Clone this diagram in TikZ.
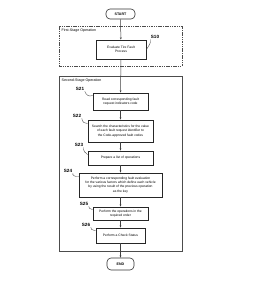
\documentclass[tikz,border=0pt]{standalone}
\usepackage{fontspec}
\setmainfont{Liberation Sans}
\usetikzlibrary{arrows.meta}
\begin{document}
\begin{tikzpicture}[x=1pt,y=-1pt,
  stepbox/.style={draw=black!85,line width=0.9pt,fill=white,align=center,inner sep=1pt,
    font=\fontsize{3.3}{4.2}\selectfont},
  term/.style={draw=black!80,line width=0.6pt,rounded corners=4pt,fill=white,
    font=\fontsize{3.6}{4.2}\selectfont\bfseries,minimum height=10pt},
  stage/.style={draw=black!70,line width=0.5pt},
  tag/.style={font=\fontsize{4.6}{5}\selectfont\bfseries,inner sep=0.5pt},
  lead/.style={draw=black!70,line width=0.4pt},
  flow/.style={draw=black!75,line width=0.5pt,-{Stealth[length=2.2pt,width=1.8pt]}},
  stagelbl/.style={font=\fontsize{3.6}{4}\selectfont,anchor=north west,inner sep=0.5pt}]
\useasboundingbox (0,0) rectangle (253,298);
\fill[white] (0,0) rectangle (253,298);

% stage frames
\draw[stage,dashed,dash pattern=on 1.5pt off 0.8pt] (59,26) rectangle (182,66);
\node[stagelbl] (st1) at (61,28) {First-Stage Operation};
\draw[stage] (59,76) rectangle (182,251);
\node[stagelbl] (st2) at (61,78) {Second-Stage Operation};

% nodes
\node[term,minimum width=29pt] (start) at (120.5,14) {START};
\node[stepbox,minimum width=50pt,minimum height=19pt] (s10) at (121,49.5) {Evaluate Tire Fault\\Process};
\node[stepbox,minimum width=55pt,minimum height=17pt] (s21) at (120.5,101.5) {Read corresponding fault\\request indicators code};
\node[stepbox,minimum width=65pt,minimum height=22pt] (s22) at (120.5,131) {Search the characteristics for the value\\of each fault request identifier to\\the Code-approved fault codes};
\node[stepbox,minimum width=65pt,minimum height=14pt] (s23) at (120.5,158) {Prepare a list of operations};
\node[stepbox,minimum width=83pt,minimum height=24pt] (s24) at (120.5,185) {Perform a corresponding fault evaluation\\for the various factors which define each vehicle\\by using the result of the previous operation\\as the key};
\node[stepbox,minimum width=55pt,minimum height=13pt] (s25) at (120.5,213.5) {Perform the operations in the\\required order};
\node[stepbox,minimum width=49pt,minimum height=15pt] (s26) at (120.5,235.5) {Perform a Check Status};
\node[term,minimum width=27pt,minimum height=12pt] (end) at (120.5,264) {END};

% step labels and leaders
\node[tag] (t10) at (155,37) {S10};
\draw[lead] (t10.south west) .. controls (151,44) and (149,45) .. (s10.east);
\node[tag] (t21) at (80,89) {S21};
\draw[lead] (t21.south east) .. controls (86,95) and (89,97) .. ([yshift=-3pt]s21.north west);
\node[tag] (t22) at (77,116) {S22};
\draw[lead] (t22.south east) .. controls (82,122) and (85,124) .. ([yshift=-4pt]s22.north west);
\node[tag] (t23) at (79,145) {S23};
\draw[lead] (t23.south east) .. controls (83,151) and (85,153) .. ([yshift=-4pt]s23.north west);
\node[tag] (t24) at (68,171) {S24};
\draw[lead] (t24.south east) .. controls (72,175) and (75,177) .. ([yshift=-4pt]s24.north west);
\node[tag] (t25) at (84,204) {S25};
\draw[lead] (t25.south east) .. controls (88,208) and (90,209) .. ([yshift=-3pt]s25.north west);
\node[tag] (t26) at (86,225) {S26};
\draw[lead] (t26.south east) .. controls (90,229) and (92,230) .. ([yshift=-3pt]s26.north west);

% flow
\draw[flow] (start) -- (s10);
\draw[flow] (s10) -- (s21);
\draw[flow] (s21) -- (s22);
\draw[flow] (s22) -- (s23);
\draw[flow] (s23) -- (s24);
\draw[flow] (s24) -- (s25);
\draw[flow] (s25) -- (s26);
\draw[flow] (s26) -- (end);
\end{tikzpicture}
\end{document}
